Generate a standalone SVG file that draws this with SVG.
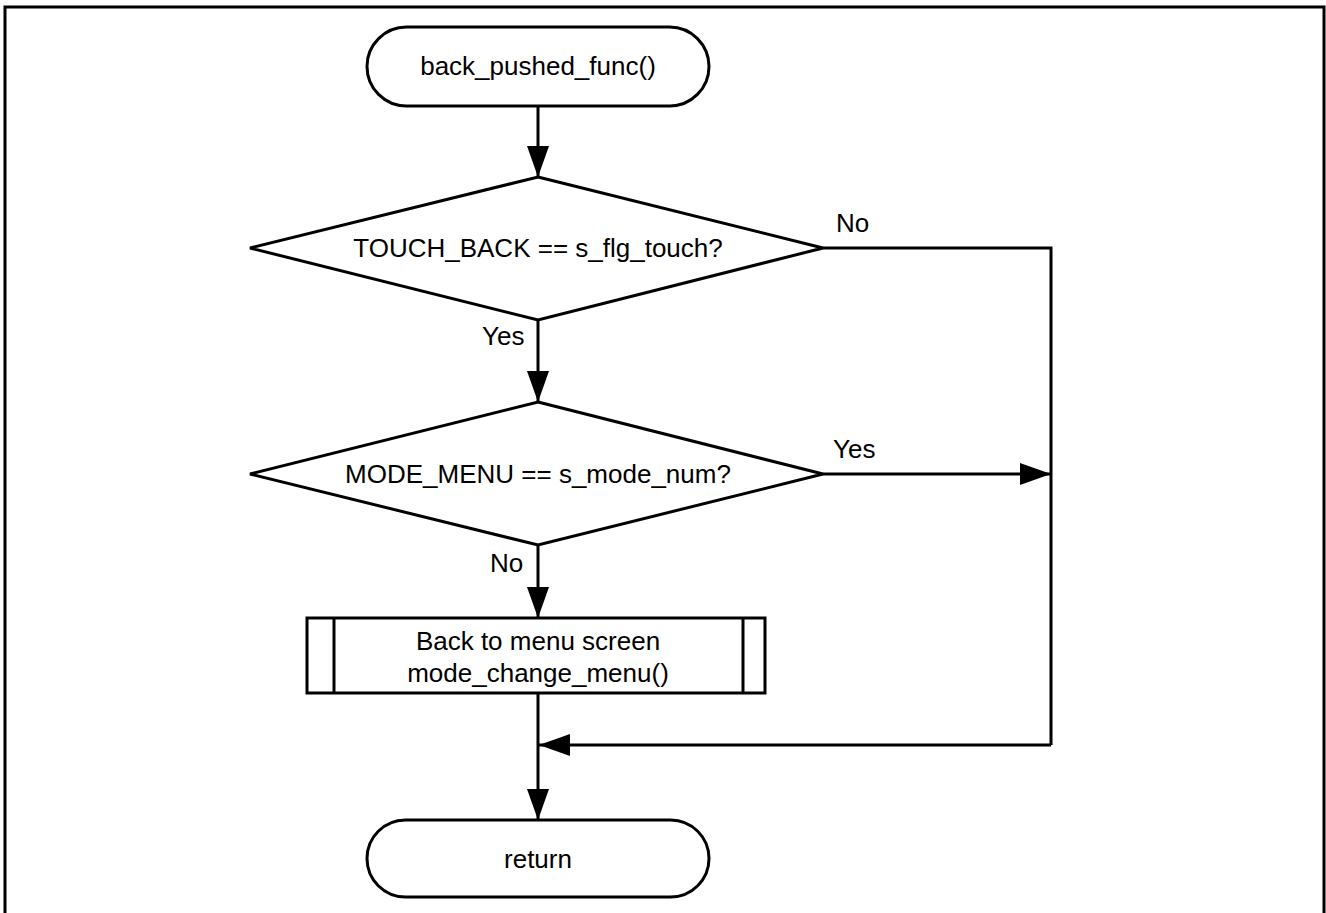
<svg xmlns="http://www.w3.org/2000/svg" width="1326" height="913" viewBox="0 0 1326 913">
<defs>
<style>
.s{fill:#fff;stroke:#000;stroke-width:3}
.c{fill:none;stroke:#000;stroke-width:3}
text{font-family:"Liberation Sans",Arial,sans-serif;font-size:26px;fill:#000}
.m{text-anchor:middle}
</style>
<marker id="a" markerUnits="userSpaceOnUse" markerWidth="32" markerHeight="22" viewBox="0 0 32 22" refX="31" refY="11" orient="auto">
<path d="M0,0 L31,11 L0,22 Z" fill="#000"/>
</marker>
</defs>
<rect width="1326" height="913" fill="#fff"/>
<g id="frame">
<path d="M5,913 V7 H1324 V913" fill="none" stroke="#000" stroke-width="3"/>
</g>
<g id="start">
<rect class="s" x="367" y="27" width="342" height="79" rx="39.5"/>
<text class="m" x="538" y="75">back_pushed_func()</text>
</g>
<g id="dec1">
<polygon class="s" points="538,177 823,248 538,320 250,248"/>
<text class="m" x="538" y="257">TOUCH_BACK == s_flg_touch?</text>
</g>
<g id="dec2">
<polygon class="s" points="538,402 823,474 538,545 250,474"/>
<text class="m" x="538" y="483">MODE_MENU == s_mode_num?</text>
</g>
<g id="proc">
<rect class="s" x="307" y="618" width="458" height="75"/>
<line class="c" x1="334" y1="618" x2="334" y2="693"/>
<line class="c" x1="743" y1="618" x2="743" y2="693"/>
<text class="m" x="538" y="650">Back to menu screen</text>
<text class="m" x="538" y="682">mode_change_menu()</text>
</g>
<g id="end">
<rect class="s" x="367" y="820" width="342" height="77" rx="38.5"/>
<text class="m" x="538" y="868">return</text>
</g>
<g id="connectors">
<line class="c" x1="538" y1="106" x2="538" y2="177" marker-end="url(#a)"/>
<line class="c" x1="538" y1="320" x2="538" y2="402" marker-end="url(#a)"/>
<line class="c" x1="538" y1="545" x2="538" y2="618" marker-end="url(#a)"/>
<line class="c" x1="538" y1="693" x2="538" y2="820" marker-end="url(#a)"/>
<polyline class="c" points="823,248 1051,248 1051,745"/>
<line class="c" x1="823" y1="474" x2="1051" y2="474" marker-end="url(#a)"/>
<line class="c" x1="1051" y1="745" x2="539" y2="745" marker-end="url(#a)"/>
<text x="836" y="232">No</text>
<text x="833" y="458">Yes</text>
<text x="482" y="345">Yes</text>
<text x="490" y="572">No</text>
</g>
</svg>
